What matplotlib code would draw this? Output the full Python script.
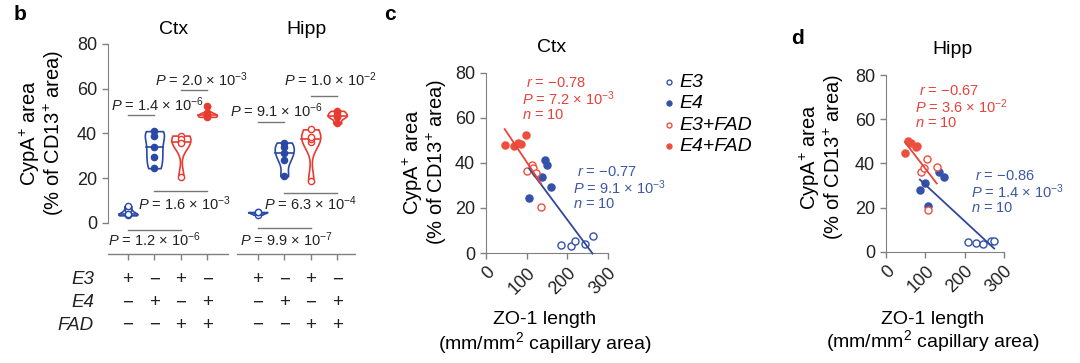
import numpy as np
import matplotlib
matplotlib.use("Agg")
import matplotlib.pyplot as plt
import matplotlib.transforms as mtransforms

plt.rcParams["font.family"] = ["Liberation Sans", "DejaVu Sans"]
plt.rcParams["mathtext.fontset"] = "custom"
plt.rcParams["mathtext.rm"] = "Liberation Sans"
plt.rcParams["mathtext.it"] = "Liberation Sans:italic"
plt.rcParams["mathtext.bf"] = "Liberation Sans:bold"
plt.rcParams["axes.edgecolor"] = "#808080"
plt.rcParams["xtick.color"] = "#808080"
plt.rcParams["ytick.color"] = "#808080"
plt.rcParams["xtick.labelcolor"] = "#222222"
plt.rcParams["ytick.labelcolor"] = "#222222"

GROUPS = ["E3", "E4", "E3+FAD", "E4+FAD"]
E3_ROW = ["+", "\u2212", "+", "\u2212"]
E4_ROW = ["\u2212", "+", "\u2212", "+"]
FAD_ROW = ["\u2212", "\u2212", "+", "+"]

# ZO-1 length (mm/mm2) and CypA+ area (% of CD13+ area), one list per group
ctx_zo1 = [[184, 208, 220, 244, 262],
           [106, 138, 146, 150, 160],
           [100, 112, 116, 122, 136],
           [46, 68, 78, 86, 98]]
ctx_cypa = [[3.7, 3.3, 5.5, 4.0, 7.4],
            [24.4, 33.8, 41.0, 39.0, 29.2],
            [36.3, 39.0, 37.5, 35.6, 20.4],
            [47.9, 47.4, 48.9, 48.1, 52.3]]
hipp_zo1 = [[208, 229, 246, 267, 275],
            [86, 99, 106, 136, 148],
            [89, 97, 103, 108, 129],
            [48, 55, 64, 75, 78]]
hipp_cypa = [[4.4, 4.1, 3.6, 4.8, 4.8],
             [27.9, 31.2, 20.8, 35.9, 33.7],
             [36.2, 37.7, 41.8, 18.9, 38.5],
             [44.5, 50.1, 49.0, 47.2, 47.8]]

# pairwise P values in panel b: (mantissa, exponent, group a, group b)
ctx_pvals = [("2.0", "-3", 2, 3), ("1.4", "-6", 0, 1), ("1.6", "-3", 1, 3), ("1.2", "-6", 0, 2)]
hipp_pvals = [("1.0", "-2", 2, 3), ("9.1", "-6", 0, 1), ("6.3", "-4", 1, 3), ("9.9", "-7", 0, 2)]

# correlation stats (r, P mantissa, P exponent, n) for E3/E4 and FAD pairs
ctx_stats = {"blue": ("\u22120.77", "9.1", "-3", 10), "red": ("\u22120.78", "7.2", "-3", 10)}
hipp_stats = {"blue": ("\u22120.86", "1.4", "-3", 10), "red": ("\u22120.67", "3.6", "-2", 10)}

BLUE = "#2a48a6"
RED = "#e93a30"
SC_BLUE = "#3552aa"
SC_RED = "#ee4f3d"
LINE_BLUE = "#30479a"
LINE_RED = "#e8453a"
FILLED = [False, True, False, True]
COL_B = [BLUE, BLUE, RED, RED]
COL_S = [SC_BLUE, SC_BLUE, SC_RED, SC_RED]
TXT = "#222222"

W, H = 1080, 363
fig = plt.figure(figsize=(10.8, 3.63), dpi=100)


def px_axes(l, t, r, b):
    return fig.add_axes([l / W, 1 - b / H, (r - l) / W, (b - t) / H])


def ptext(m, e):
    return "$P$ = " + m + " \u00d7 10$^{" + e + "}$"


def draw_violin(ax, pos, vals, color, filled):
    parts = ax.violinplot([vals], positions=[pos], widths=0.72, showextrema=False,
                          bw_method=0.5)
    body = parts["bodies"][0]
    body.set_facecolor("white")
    body.set_edgecolor(color)
    body.set_alpha(1)
    body.set_linewidth(1.2)
    verts = body.get_paths()[0].vertices
    right = verts[verts[:, 0] >= pos]
    right = right[np.argsort(right[:, 1])]
    med = np.median(vals)
    hw = np.interp(med, right[:, 1], right[:, 0]) - pos
    ax.plot([pos - hw, pos + hw], [med, med], color=color, lw=1.2, zorder=2)
    ax.scatter([pos] * len(vals), vals, s=20, facecolor=color if filled else "white",
               edgecolor=color, lw=1.0, zorder=3)


# ---- panel b: violins
ax_b = px_axes(108, 44, 355, 254)
xpos = [0, 1, 2, 3, 4.9, 5.9, 6.9, 7.9]
for region, offs in [(ctx_cypa, 0), (hipp_cypa, 4)]:
    for g in range(4):
        draw_violin(ax_b, xpos[offs + g], region[g], COL_B[g], FILLED[g])

ax_b.set_xlim(-0.75, 8.57)
ax_b.set_ylim(-14, 80)
ax_b.set_yticks([0, 20, 40, 60, 80])
ax_b.spines["left"].set_bounds(0, 80)
for s in ["top", "right", "bottom"]:
    ax_b.spines[s].set_visible(False)
ax_b.set_xticks(xpos)
ax_b.set_xticklabels([])
ax_b.tick_params(labelsize=13, length=4, width=1, pad=4)
blend = mtransforms.blended_transform_factory(ax_b.transData, ax_b.transAxes)
ax_b.plot([-0.75, 3.77], [0, 0], transform=blend, color="#808080", lw=1, clip_on=False)
ax_b.plot([4.11, 8.57], [0, 0], transform=blend, color="#808080", lw=1, clip_on=False)

# bracket heights and label centres (data units)
ctx_line_y = [59.6, 48.0, 14.2, -3.1]
ctx_text_xy = [(2.79, 63.8), (1.13, 53.0), (2.15, 8.6), (1.02, -7.8)]
hipp_line_y = [56.9, 45.0, 13.3, -2.4]
hipp_text_xy = [(7.66, 63.8), (5.62, 50.0), (6.91, 8.6), (6.0, -7.8)]
for pv, offs, ly, txy in [(ctx_pvals, 0, ctx_line_y, ctx_text_xy),
                          (hipp_pvals, 4, hipp_line_y, hipp_text_xy)]:
    for i, (m, e, a, b) in enumerate(pv):
        xa, xb = xpos[offs + a], xpos[offs + b]
        ax_b.plot([xa, xb], [ly[i], ly[i]], color="#777777", lw=1, clip_on=False)
        ax_b.text(txy[i][0], txy[i][1], ptext(m, e), ha="center", va="center",
                  fontsize=10.5, color=TXT, zorder=4)

for row, (name, signs) in enumerate([("E3", E3_ROW), ("E4", E4_ROW), ("FAD", FAD_ROW)]):
    yy = [-0.123, -0.232, -0.341][row]
    ax_b.text(-0.057, yy, name, transform=ax_b.transAxes, ha="right", va="center",
              fontsize=13.5, style="italic", color=TXT)
    for j in range(8):
        ax_b.text(xpos[j], yy, signs[j % 4], transform=blend, ha="center", va="center",
                  fontsize=13.5, color=TXT)

fig.text(174 / W, 1 - 30 / H, "Ctx", ha="center", va="center", fontsize=14)
fig.text(307 / W, 1 - 30 / H, "Hipp", ha="center", va="center", fontsize=14)


# ---- panels c and d: scatter with fits
def scatter_panel(ax, zo1, cypa, stats, title, tpos, stat_pos):
    handles = []
    for g in range(4):
        h = ax.scatter(zo1[g], cypa[g], s=26, facecolor=COL_S[g] if FILLED[g] else "white",
                       edgecolor=COL_S[g], lw=1.0, zorder=2, label=GROUPS[g], clip_on=False)
        handles.append(h)
    for key, idx, lc in [("blue", [0, 1], LINE_BLUE), ("red", [2, 3], LINE_RED)]:
        x = np.concatenate([zo1[i] for i in idx])
        y = np.concatenate([cypa[i] for i in idx])
        k, c0 = np.polyfit(x, y, 1)
        xs = np.array([x.min(), x.max()])
        ax.plot(xs, k * xs + c0, color=lc, lw=1.3, zorder=3, clip_on=False)
    ax.set_xlim(0, 300)
    ax.set_ylim(0, 80)
    ax.set_xticks([0, 100, 200, 300])
    ax.set_yticks([0, 20, 40, 60, 80])
    for s in ["top", "right"]:
        ax.spines[s].set_visible(False)
    ax.tick_params(labelsize=13, length=4, width=1, pad=4)
    for lab in ax.get_xticklabels():
        lab.set_rotation(45)
        lab.set_ha("right")
        lab.set_rotation_mode("anchor")
    for key, col in [("red", "#e8413a"), ("blue", "#3a58a6")]:
        r, m, e, n = stats[key]
        x0, y0 = stat_pos[key]
        lines = ["$r$ = " + r, ptext(m, e), "$n$ = %d" % n]
        for i, t in enumerate(lines):
            fig.text((x0 + (4 if i == 0 else 0)) / W, 1 - (y0 + 16 * i) / H, t,
                     ha="left", va="center", fontsize=10.5, color=col)
    fig.text(tpos[0] / W, 1 - tpos[1] / H, title, ha="center", va="center", fontsize=14)
    return handles


ax_c = px_axes(486, 72.5, 608, 253)
hs = scatter_panel(ax_c, ctx_zo1, ctx_cypa, ctx_stats, "Ctx", (552, 47),
                   {"red": (522, 83), "blue": (573, 172)})
ax_d = px_axes(886, 75, 1004, 251.7)
scatter_panel(ax_d, hipp_zo1, hipp_cypa, hipp_stats, "Hipp", (953, 50),
              {"red": (915, 91), "blue": (971, 176)})

ax_c.legend(handles=hs, loc="upper left", bbox_to_anchor=(665 / W, 1 - 73 / H),
            bbox_transform=fig.transFigure, frameon=False,
            prop={"style": "italic", "size": 14}, handlelength=0.4,
            handletextpad=0.35, labelspacing=0.2, markerscale=0.7,
            borderpad=0, borderaxespad=0)

# axis labels
for cx, cy in [(30, 133), (413, 162), (810, 157)]:
    fig.text(cx / W, 1 - cy / H, "CypA$^{+}$ area", rotation=90, ha="center", va="center",
             fontsize=14.5)
    fig.text((cx + 24) / W, 1 - cy / H, "(% of CD13$^{+}$ area)", rotation=90,
             ha="center", va="center", fontsize=14.5)
for cx, y1, y2 in [(545, 320, 343), (933, 319, 341)]:
    fig.text(cx / W, 1 - y1 / H, "ZO-1 length", ha="center", va="center", fontsize=14)
    fig.text(cx / W, 1 - y2 / H, "(mm/mm$^{2}$ capillary area)", ha="center", va="center",
             fontsize=14)

for lab, x, y in [("b", 20, 14), ("c", 390, 15), ("d", 798, 38)]:
    fig.text(x / W, 1 - y / H, lab, ha="center", va="center", fontsize=15, fontweight="bold")

fig.savefig("out.png", dpi=100)
